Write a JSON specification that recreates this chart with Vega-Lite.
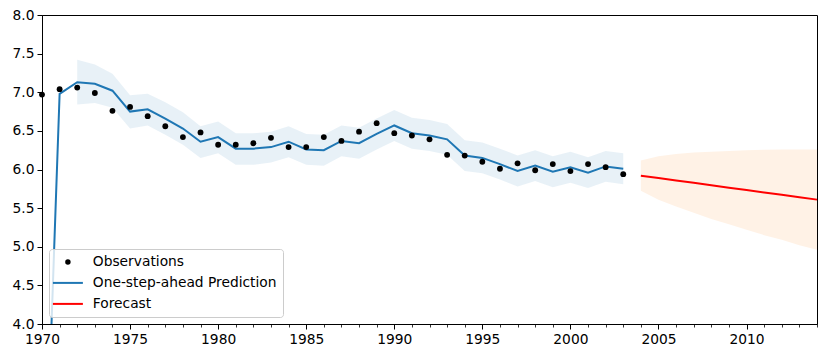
{
  "$schema": "https://vega.github.io/schema/vega-lite/v6.json",
  "width": 775,
  "height": 309,
  "autosize": {"type": "none"},
  "padding": {"left": 42, "top": 15, "right": 9, "bottom": 33},
  "background": "white",
  "datasets": {
    "hist": [
      {"year": 1970, "obs": 6.97, "pred": 0.5, "lower": null, "upper": null},
      {"year": 1971, "obs": 7.04, "pred": 6.98, "lower": null, "upper": null},
      {"year": 1972, "obs": 7.06, "pred": 7.13, "lower": 6.84, "upper": 7.42},
      {"year": 1973, "obs": 6.99, "pred": 7.11, "lower": 6.86, "upper": 7.36},
      {"year": 1974, "obs": 6.76, "pred": 7.02, "lower": 6.8, "upper": 7.24},
      {"year": 1975, "obs": 6.81, "pred": 6.75, "lower": 6.53, "upper": 6.96},
      {"year": 1976, "obs": 6.69, "pred": 6.78, "lower": 6.57, "upper": 6.98},
      {"year": 1977, "obs": 6.56, "pred": 6.66, "lower": 6.45, "upper": 6.87},
      {"year": 1978, "obs": 6.42, "pred": 6.53, "lower": 6.32, "upper": 6.74},
      {"year": 1979, "obs": 6.48, "pred": 6.36, "lower": 6.15, "upper": 6.56},
      {"year": 1980, "obs": 6.32, "pred": 6.42, "lower": 6.21, "upper": 6.62},
      {"year": 1981, "obs": 6.32, "pred": 6.27, "lower": 6.06, "upper": 6.47},
      {"year": 1982, "obs": 6.34, "pred": 6.27, "lower": 6.06, "upper": 6.47},
      {"year": 1983, "obs": 6.41, "pred": 6.29, "lower": 6.09, "upper": 6.49},
      {"year": 1984, "obs": 6.29, "pred": 6.36, "lower": 6.16, "upper": 6.56},
      {"year": 1985, "obs": 6.29, "pred": 6.26, "lower": 6.06, "upper": 6.46},
      {"year": 1986, "obs": 6.42, "pred": 6.25, "lower": 6.05, "upper": 6.45},
      {"year": 1987, "obs": 6.37, "pred": 6.37, "lower": 6.17, "upper": 6.57},
      {"year": 1988, "obs": 6.49, "pred": 6.34, "lower": 6.14, "upper": 6.54},
      {"year": 1989, "obs": 6.6, "pred": 6.46, "lower": 6.26, "upper": 6.66},
      {"year": 1990, "obs": 6.47, "pred": 6.57, "lower": 6.37, "upper": 6.77},
      {"year": 1991, "obs": 6.44, "pred": 6.47, "lower": 6.27, "upper": 6.67},
      {"year": 1992, "obs": 6.39, "pred": 6.44, "lower": 6.24, "upper": 6.64},
      {"year": 1993, "obs": 6.19, "pred": 6.39, "lower": 6.19, "upper": 6.59},
      {"year": 1994, "obs": 6.18, "pred": 6.18, "lower": 5.98, "upper": 6.38},
      {"year": 1995, "obs": 6.1, "pred": 6.15, "lower": 5.95, "upper": 6.35},
      {"year": 1996, "obs": 6.01, "pred": 6.07, "lower": 5.87, "upper": 6.27},
      {"year": 1997, "obs": 6.08, "pred": 5.98, "lower": 5.78, "upper": 6.18},
      {"year": 1998, "obs": 5.99, "pred": 6.05, "lower": 5.85, "upper": 6.25},
      {"year": 1999, "obs": 6.07, "pred": 5.97, "lower": 5.77, "upper": 6.17},
      {"year": 2000, "obs": 5.98, "pred": 6.03, "lower": 5.83, "upper": 6.23},
      {"year": 2001, "obs": 6.07, "pred": 5.96, "lower": 5.76, "upper": 6.16},
      {"year": 2002, "obs": 6.03, "pred": 6.04, "lower": 5.84, "upper": 6.24},
      {"year": 2003, "obs": 5.94, "pred": 6.01, "lower": 5.81, "upper": 6.21}
    ],
    "fc": [
      {"year": 2004, "mean": 5.92, "lower": 5.725, "upper": 6.115},
      {"year": 2005, "mean": 5.889, "lower": 5.61, "upper": 6.17},
      {"year": 2006, "mean": 5.858, "lower": 5.52, "upper": 6.2},
      {"year": 2007, "mean": 5.827, "lower": 5.44, "upper": 6.22},
      {"year": 2008, "mean": 5.796, "lower": 5.36, "upper": 6.23},
      {"year": 2009, "mean": 5.765, "lower": 5.29, "upper": 6.24},
      {"year": 2010, "mean": 5.734, "lower": 5.22, "upper": 6.25},
      {"year": 2011, "mean": 5.703, "lower": 5.15, "upper": 6.255},
      {"year": 2012, "mean": 5.672, "lower": 5.09, "upper": 6.26},
      {"year": 2013, "mean": 5.641, "lower": 5.02, "upper": 6.26},
      {"year": 2014, "mean": 5.61, "lower": 4.96, "upper": 6.26}
    ]
  },
  "config": {
    "view": {"stroke": "black", "strokeWidth": 1},
    "axis": {
      "domainColor": "black",
      "tickColor": "black",
      "labelColor": "black",
      "labelFont": "DejaVu Sans",
      "labelFontSize": 13.8,
      "grid": false,
      "tickSize": 5,
      "labelPadding": 3,
      "domainWidth": 1,
      "tickWidth": 1,
      "labelOverlap": false,
      "labelFlush": false
    }
  },
  "resolve": {"axis": {"x": "independent"}},
  "layer": [
    {
      "data": {"name": "hist"},
      "mark": {"type": "area", "fill": "#1f77b4", "fillOpacity": 0.1},
      "encoding": {
        "x": {
          "field": "year",
          "type": "quantitative",
          "scale": {"domain": [1970, 2014], "nice": false, "zero": false},
          "title": null,
          "axis": {
            "orient": "bottom",
            "values": [1970, 1975, 1980, 1985, 1990, 1995, 2000, 2005, 2010],
            "format": "d"
          }
        },
        "y": {
          "field": "lower",
          "type": "quantitative",
          "scale": {"domain": [4, 8], "nice": false, "zero": false},
          "title": null,
          "axis": {"values": [4, 4.5, 5, 5.5, 6, 6.5, 7, 7.5, 8], "format": ".1f"}
        },
        "y2": {"field": "upper"}
      }
    },
    {
      "data": {"name": "fc"},
      "mark": {"type": "area", "fill": "#ff7f0e", "fillOpacity": 0.1},
      "encoding": {
        "x": {
          "field": "year",
          "type": "quantitative",
          "title": null,
          "axis": {
            "orient": "bottom",
            "values": [1970,1971,1972,1973,1974,1975,1976,1977,1978,1979,1980,1981,1982,1983,1984,1985,1986,1987,1988,1989,1990,1991,1992,1993,1994,1995,1996,1997,1998,1999,2000,2001,2002,2003,2004,2005,2006,2007,2008,2009,2010,2011,2012,2013,2014],
            "labels": false,
            "domain": false,
            "tickSize": 3,
            "tickWidth": 0.8
          }
        },
        "y": {
          "field": "lower",
          "type": "quantitative",
          "title": null,
          "axis": {"values": [4, 4.5, 5, 5.5, 6, 6.5, 7, 7.5, 8], "format": ".1f"}
        },
        "y2": {"field": "upper"}
      }
    },
    {
      "data": {"name": "hist"},
      "mark": {"type": "line", "clip": true, "strokeWidth": 2},
      "encoding": {
        "x": {"field": "year", "type": "quantitative", "axis": null},
        "y": {
          "field": "pred",
          "type": "quantitative",
          "title": null,
          "axis": {"values": [4, 4.5, 5, 5.5, 6, 6.5, 7, 7.5, 8], "format": ".1f"}
        },
        "color": {
          "datum": "One-step-ahead Prediction",
          "type": "nominal",
          "scale": {
            "domain": ["Observations", "One-step-ahead Prediction", "Forecast"],
            "range": ["black", "#1f77b4", "red"]
          },
          "legend": {
            "title": null,
            "orient": "bottom-left",
            "offset": 7,
            "padding": 6,
            "rowPadding": 6,
            "symbolSize": 200,
            "symbolOffset": 6,
            "labelOffset": 18,
            "labelLimit": 0,
            "labelFont": "DejaVu Sans",
            "labelFontSize": 13.8,
            "labelColor": "black",
            "fillColor": "rgba(255,255,255,0.8)",
            "strokeColor": "#cccccc",
            "cornerRadius": 3,
            "symbolStrokeWidth": 2,
            "encode": {
              "symbols": {
                "update": {
                  "shape": {"signal": "datum.value === 'Observations' ? 'circle' : 'M-2.12,0L2.12,0'"},
                  "size": {"signal": "datum.value === 'Observations' ? 30 : 200"},
                  "stroke": {"scale": "color", "field": "value"},
                  "fill": {"scale": "color", "field": "value"},
                  "strokeWidth": {"signal": "datum.value === 'Observations' ? 0 : 2"},
                  "opacity": {"value": 1}
                }
              }
            }
          }
        }
      }
    },
    {
      "data": {"name": "fc"},
      "mark": {"type": "line", "strokeWidth": 2},
      "encoding": {
        "x": {"field": "year", "type": "quantitative", "axis": null},
        "y": {
          "field": "mean",
          "type": "quantitative",
          "title": null,
          "axis": {"values": [4, 4.5, 5, 5.5, 6, 6.5, 7, 7.5, 8], "format": ".1f"}
        },
        "color": {"datum": "Forecast", "type": "nominal"}
      }
    },
    {
      "data": {"name": "hist"},
      "mark": {"type": "point", "filled": true, "size": 34, "opacity": 1},
      "encoding": {
        "x": {"field": "year", "type": "quantitative", "axis": null},
        "y": {
          "field": "obs",
          "type": "quantitative",
          "title": null,
          "axis": {"values": [4, 4.5, 5, 5.5, 6, 6.5, 7, 7.5, 8], "format": ".1f"}
        },
        "color": {"datum": "Observations", "type": "nominal"}
      }
    }
  ]
}
